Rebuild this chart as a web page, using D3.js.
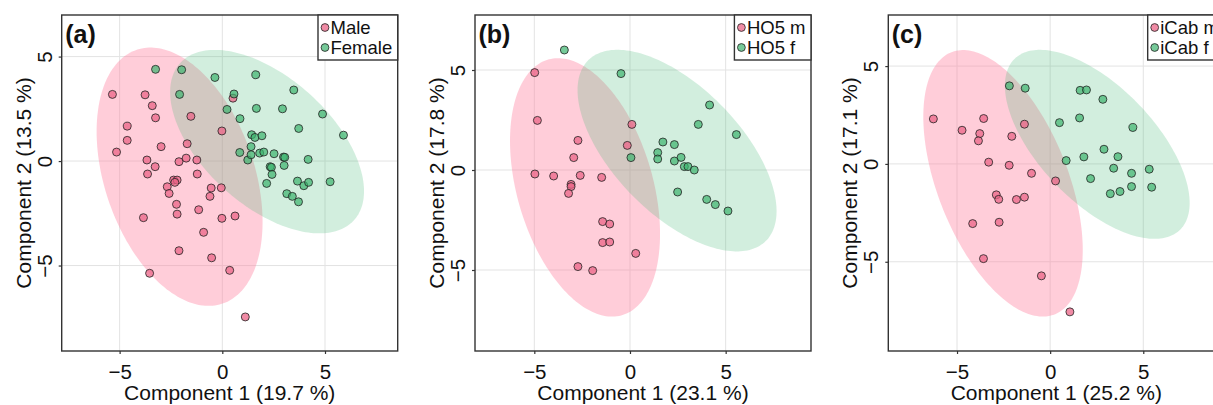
<!DOCTYPE html>
<html><head><meta charset="utf-8">
<script src="https://cdn.jsdelivr.net/npm/d3@7"></script>
<style>
body{margin:0;background:#fff;}
text{font-family:"Liberation Sans",Arial,Helvetica,sans-serif;}
</style></head>
<body><svg id="chart" width="1213" height="405"></svg>
<script>
// ---------- data ----------
const panelLabels = ["(a)", "(b)", "(c)"];
const xTitles = ["Component 1 (19.7 %)", "Component 1 (23.1 %)", "Component 1 (25.2 %)"];
const yTitles = ["Component 2 (13.5 %)", "Component 2 (17.8 %)", "Component 2 (17.1 %)"];
const maleNames = ["Male", "HO5 m", "iCab m"];
const femaleNames = ["Female", "HO5 f", "iCab f"];
const tickValues = [-5, 0, 5];
const xDomains = [[-7.82, 8.54], [-8.1, 9.46], [-8.69, 9.35]];
const yDomains = [[-9.09, 6.99], [-9.05, 7.75], [-9.56, 7.61]];

// panel (a)
const aMaleX = [-5.35,-3.76,-3.41,-3.25,-4.63,-4.63,-5.15,-2.98,-3.67,-3.64,-3.27,-1.53,-1.71,-1.76,-2.11,-1.24,-1.22,-0.02,0.52,-2.37,-2.2,-2.31,-2.68,-2.59,-2.23,-2.2,-3.84,-1.15,-0.54,-0.6,-0.05,-0.02,0.62,-0.91,-2.11,-0.52,0.36,-3.54,1.12];
const aMaleY = [3.19,3.17,2.65,2.07,1.67,0.99,0.43,0.69,0.05,-0.62,-0.27,2.14,0.83,0.14,-0.03,0.05,-0.62,1.44,3.01,-0.91,-0.91,-1.02,-1.23,-1.55,-2.07,-2.54,-2.71,-2.33,-1.29,-1.69,-1.28,-2.74,-2.63,-3.41,-4.29,-4.63,-5.23,-5.37,-7.46];
const aFemaleX = [-3.25,-1.98,-2.08,-0.36,1.63,0.57,0.23,0.86,1.66,2.93,3.48,4.88,5.9,3.72,1.43,1.59,1.93,1.4,0.85,1.24,1.4,1.82,2.02,2.52,2.98,3.04,3.01,4.18,2.33,2.39,2.42,2.16,3.66,3.97,4.2,5.25,3.14,3.41,3.71];
const aFemaleY = [4.39,4.37,3.19,4.0,4.13,3.21,2.47,2.03,2.52,2.5,3.4,2.25,1.24,1.56,1.26,1.13,1.21,0.69,0.41,0.05,0.3,0.38,0.43,0.35,0.19,0.18,-0.21,0.08,-0.27,-0.3,-0.64,-1.07,-0.96,-1.18,-1.02,-0.99,-1.56,-1.69,-1.95];

// panel (b)
const bMaleX = [-4.98,-4.84,-2.72,-2.94,-4.97,-3.99,-2.6,-3.08,-3.08,-3.21,-1.48,-1.43,-1.06,-1.43,-1.06,0.3,-2.72,-1.95,0.1,-0.14];
const bMaleY = [4.87,2.48,1.48,0.62,-0.2,-0.3,-0.27,-0.72,-0.83,-1.17,-0.37,-2.58,-2.7,-3.63,-3.6,-4.17,-4.83,-5.03,2.28,1.23];
const bFemaleX = [-3.43,-0.47,0.05,4.16,3.57,5.56,1.72,2.32,1.45,1.45,2.32,2.67,2.84,3.03,3.36,2.49,4.01,4.46,5.12];
const bFemaleY = [6.0,4.82,0.62,3.25,2.28,1.77,1.4,1.27,0.87,0.55,0.45,0.63,0.17,0.17,0.0,-1.1,-1.47,-1.73,-2.05];

// panel (c)
const cMaleX = [-6.27,-4.73,-3.57,-3.78,-3.85,-2.06,-1.38,-3.3,-2.2,-1.0,0.29,-2.89,-2.76,-1.81,-1.38,-4.16,-2.74,-3.58,-0.47,1.06];
const cMaleY = [2.3,1.72,2.32,1.55,1.18,1.41,2.03,0.09,-0.07,-0.48,-0.87,-1.58,-1.81,-1.82,-1.7,-3.05,-2.98,-4.84,-5.72,-7.56];
const cFemaleX = [-2.19,-1.34,1.61,1.95,2.83,1.58,0.5,4.44,2.89,3.64,1.81,0.86,3.41,4.37,5.32,2.17,4.37,5.45,3.23,3.75];
const cFemaleY = [3.99,3.87,3.76,3.78,3.3,2.35,2.11,1.86,0.75,0.37,0.36,0.17,-0.22,-0.48,-0.27,-0.75,-1.16,-1.19,-1.52,-1.41];

// ellipses: [centreX, centreY, halfWidthX, halfHeightY, correlation]
const maleEllipses = [[-2.08,-0.75,4.04,6.18,-0.35],[-2.35,-0.87,3.92,6.46,-0.36],[-2.53,-0.99,4.28,6.81,-0.5]];
const femaleEllipses = [[2.18,0.93,4.72,4.39,-0.54],[2.46,0.97,5.2,5.04,-0.6],[2.53,1.0,4.96,4.83,-0.62]];

const panels = [
  {mx:aMaleX,my:aMaleY,fx:aFemaleX,fy:aFemaleY},
  {mx:bMaleX,my:bMaleY,fx:bFemaleX,fy:bFemaleY},
  {mx:cMaleX,my:cMaleY,fx:cFemaleX,fy:cFemaleY}
];

// ---------- style ----------
const panelLefts = [61.7, 475, 888.3];
const plotTop = 15, size = 336;
const maleFill = "rgb(235,100,135)", femaleFill = "rgb(60,180,110)";
const maleEllFill = "rgba(255,130,160,0.4)", femaleEllFill = "rgba(67,184,117,0.24)";
const ink = "#333";

const svg = d3.select("#chart");

function ellipsePts(e, n){
  const [cx, cy, sx, sy, r] = e;
  const q = Math.sqrt(1 - r*r);
  return d3.range(n+1).map(i => {
    const t = 2*Math.PI*i/n;
    return [cx + sx*Math.cos(t), cy + sy*(r*Math.cos(t) + q*Math.sin(t))];
  });
}

panels.forEach((p, i) => {
  const L = panelLefts[i];
  const x = d3.scaleLinear().domain(xDomains[i]).range([L, L+size]);
  const y = d3.scaleLinear().domain(yDomains[i]).range([plotTop+size, plotTop]);
  const g = svg.append("g");
  const clipId = "clip"+i;
  svg.append("clipPath").attr("id", clipId).append("rect")
    .attr("x", L).attr("y", plotTop).attr("width", size).attr("height", size);
  const inner = g.append("g").attr("clip-path", `url(#${clipId})`);

  // grid
  inner.selectAll(".gx").data(tickValues).join("line")
    .attr("x1", d => x(d)).attr("x2", d => x(d)).attr("y1", plotTop).attr("y2", plotTop+size)
    .attr("stroke", "#e3e3e3").attr("stroke-width", 1);
  inner.selectAll(".gy").data(tickValues).join("line")
    .attr("y1", d => y(d)).attr("y2", d => y(d)).attr("x1", L).attr("x2", L+size)
    .attr("stroke", "#e3e3e3").attr("stroke-width", 1);

  // ellipses
  const line = d3.line().x(d => x(d[0])).y(d => y(d[1])).curve(d3.curveLinearClosed);
  inner.append("path").attr("d", line(ellipsePts(maleEllipses[i], 200))).attr("fill", maleEllFill);
  inner.append("path").attr("d", line(ellipsePts(femaleEllipses[i], 200))).attr("fill", femaleEllFill);

  // points
  const males = p.mx.map((v, k) => [v, p.my[k]]);
  const females = p.fx.map((v, k) => [v, p.fy[k]]);
  inner.selectAll(".m").data(males).join("circle")
    .attr("cx", d => x(d[0])).attr("cy", d => y(d[1])).attr("r", 4)
    .attr("fill", maleFill).attr("fill-opacity", 0.75).attr("stroke", "#222").attr("stroke-width", 0.8);
  inner.selectAll(".f").data(females).join("circle")
    .attr("cx", d => x(d[0])).attr("cy", d => y(d[1])).attr("r", 4)
    .attr("fill", femaleFill).attr("fill-opacity", 0.7).attr("stroke", "#222").attr("stroke-width", 0.8);

  // axes
  const ax = g.append("g").attr("transform", `translate(0,${plotTop+size})`)
    .call(d3.axisBottom(x).tickValues(tickValues).tickSizeInner(3).tickSizeOuter(0).tickPadding(4));
  ax.select(".domain").remove();
  ax.selectAll("line").attr("stroke", ink).attr("stroke-width", 1.2);
  ax.selectAll("text").attr("font-size", 20.5).attr("fill", "#111").attr("dy", null).attr("y", 28);

  const ay = g.append("g").attr("transform", `translate(${L},0)`)
    .call(d3.axisLeft(y).tickValues(tickValues).tickSizeInner(3).tickSizeOuter(0));
  ay.select(".domain").remove();
  ay.selectAll("line").attr("stroke", ink).attr("stroke-width", 1.2);
  ay.selectAll("text").attr("font-size", 20.5).attr("fill", "#111")
    .attr("x", null).attr("dy", null).attr("text-anchor", "middle")
    .attr("transform", "translate(-10,0) rotate(-90)").attr("y", 0);

  // box
  g.append("rect").attr("x", L).attr("y", plotTop).attr("width", size).attr("height", size)
    .attr("fill", "none").attr("stroke", ink).attr("stroke-width", 1.4);

  // titles
  g.append("text").attr("x", L + size/2).attr("y", 400).attr("text-anchor", "middle")
    .attr("font-size", 21).attr("fill", "#111").text(xTitles[i]);
  g.append("text").attr("transform", `translate(${L-31},${plotTop+size/2}) rotate(-90)`)
    .attr("text-anchor", "middle").attr("font-size", 21).attr("fill", "#111").text(yTitles[i]);

  // panel label
  g.append("text").attr("x", L+3.5).attr("y", plotTop+27.5).attr("font-size", 25)
    .attr("font-weight", "bold").attr("fill", "#111").text(panelLabels[i]);

  // legend
  const lg = g.append("g");
  const t1 = lg.append("text").attr("font-size", 18.5).attr("fill", "#111").text(maleNames[i]);
  const t2 = lg.append("text").attr("font-size", 18.5).attr("fill", "#111").text(femaleNames[i]);
  const tw = Math.max(t1.node().getComputedTextLength(), t2.node().getComputedTextLength());
  const lw = tw + 18;
  const lx = L + size - lw;
  lg.insert("rect", "text").attr("x", lx).attr("y", plotTop).attr("width", lw).attr("height", 45)
    .attr("fill", "#fff").attr("stroke", ink).attr("stroke-width", 1.4);
  t1.attr("x", lx + 12.5).attr("y", plotTop + 18.5);
  t2.attr("x", lx + 12.5).attr("y", plotTop + 38.5);
  lg.append("circle").attr("cx", lx + 7).attr("cy", plotTop + 12.5).attr("r", 3.9)
    .attr("fill", maleFill).attr("fill-opacity", 0.75).attr("stroke", "#222").attr("stroke-width", 0.8);
  lg.append("circle").attr("cx", lx + 7).attr("cy", plotTop + 32.5).attr("r", 3.9)
    .attr("fill", femaleFill).attr("fill-opacity", 0.7).attr("stroke", "#222").attr("stroke-width", 0.8);
});
</script></body></html>
